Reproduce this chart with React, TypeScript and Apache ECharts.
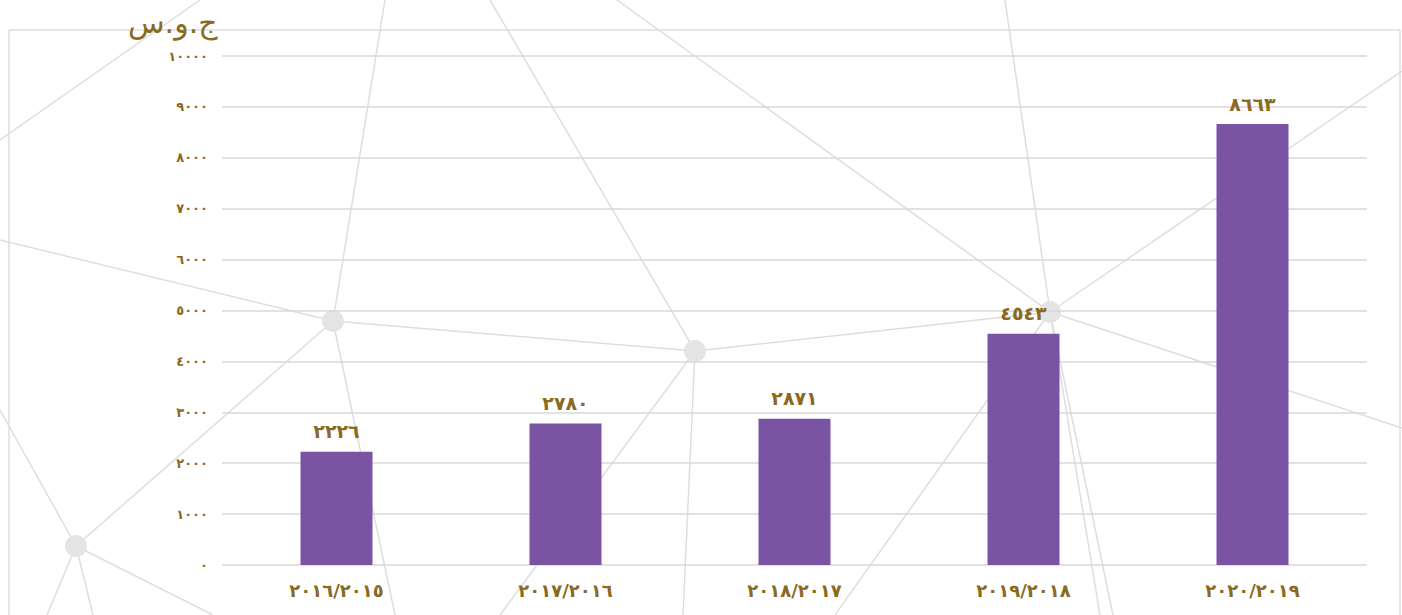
import React, { useEffect, useRef } from "react";
import * as echarts from "echarts";

const categories = ["٢٠١٦/٢٠١٥", "٢٠١٧/٢٠١٦", "٢٠١٨/٢٠١٧", "٢٠١٩/٢٠١٨", "٢٠٢٠/٢٠١٩"];
const values = [2226, 2780, 2871, 4543, 8663];
const unitLabel = "ج.و.س";
const yMax = 10000;
const yInterval = 1000;

const AR = "٠١٢٣٤٥٦٧٨٩";
const toArabic = (n: number) => String(n).replace(/\d/g, (d) => AR[Number(d)]);

const GOLD = "#8a6a1e";
const LINE = "#dedede";
const NODE = "#e4e4e4";

const decoLines: number[][] = [
  [0, 140, 200, 0],
  [385, 0, 333, 321],
  [333, 321, 395, 615],
  [333, 321, 76, 546],
  [0, 240, 333, 321],
  [333, 321, 695, 351],
  [695, 351, 1050, 312],
  [1050, 312, 1402, 428],
  [490, 0, 695, 351],
  [695, 351, 683, 615],
  [695, 351, 500, 615],
  [617, 0, 1050, 312],
  [1005, 0, 1050, 312],
  [1050, 312, 1402, 71],
  [1050, 312, 1113, 615],
  [1050, 312, 1100, 615],
  [1050, 312, 835, 615],
  [76, 546, 47, 615],
  [76, 546, 93, 615],
  [76, 546, 213, 615],
  [0, 410, 76, 546],
  [9, 30, 1400, 30],
  [9, 30, 9, 615],
  [1400, 30, 1400, 615],
];
const decoNodes: number[][] = [
  [333, 321],
  [695, 351],
  [1050, 312],
  [76, 546],
];

export default function App() {
  const ref = useRef<HTMLDivElement>(null);
  useEffect(() => {
    document.body.style.margin = "0";
    if (!ref.current) return;
    const chart = echarts.init(ref.current, undefined, { renderer: "svg" });
    const graphics: any[] = [];
    decoLines.forEach((l) =>
      graphics.push({
        type: "line",
        z: -10,
        silent: true,
        shape: { x1: l[0], y1: l[1], x2: l[2], y2: l[3] },
        style: { stroke: LINE, lineWidth: 1.5 },
      })
    );
    decoNodes.forEach((c) =>
      graphics.push({
        type: "circle",
        z: -9,
        silent: true,
        shape: { cx: c[0], cy: c[1], r: 11 },
        style: { fill: NODE },
      })
    );
    graphics.push({
      type: "text",
      left: 128,
      top: 7,
      z: 10,
      style: {
        text: unitLabel,
        fill: GOLD,
        font: "normal 30px 'DejaVu Sans', 'Noto Sans', sans-serif",
      },
    });
    chart.setOption({
      animation: false,
      backgroundColor: "#ffffff",
      graphic: graphics,
      grid: { left: 222, right: 35, top: 56, bottom: 50, containLabel: false },
      xAxis: {
        type: "category",
        data: categories,
        axisLine: { show: false },
        axisTick: { show: false },
        axisLabel: {
          color: GOLD,
          fontSize: 18,
          fontWeight: "bold",
          fontFamily: "'DejaVu Sans', sans-serif",
          margin: 16,
        },
      },
      yAxis: {
        type: "value",
        min: 0,
        max: yMax,
        interval: yInterval,
        axisLine: { show: false },
        axisTick: { show: false },
        splitLine: { lineStyle: { color: "#d9d9d9", width: 1.5 } },
        axisLabel: {
          color: GOLD,
          fontSize: 13,
          fontWeight: "bold",
          fontFamily: "'DejaVu Sans', sans-serif",
          margin: 14,
          formatter: (v: number) => toArabic(v),
        },
      },
      series: [
        {
          type: "bar",
          data: values,
          barWidth: 72,
          itemStyle: { color: "#7b53a3" },
          label: {
            show: true,
            position: "top",
            distance: 11,
            color: GOLD,
            fontSize: 19,
            fontWeight: "bold",
            fontFamily: "'DejaVu Sans', sans-serif",
            formatter: (p: any) => toArabic(p.value),
          },
        },
      ],
    });
    return () => chart.dispose();
  }, []);
  return <div ref={ref} style={{ width: 1402, height: 615 }} />;
}
